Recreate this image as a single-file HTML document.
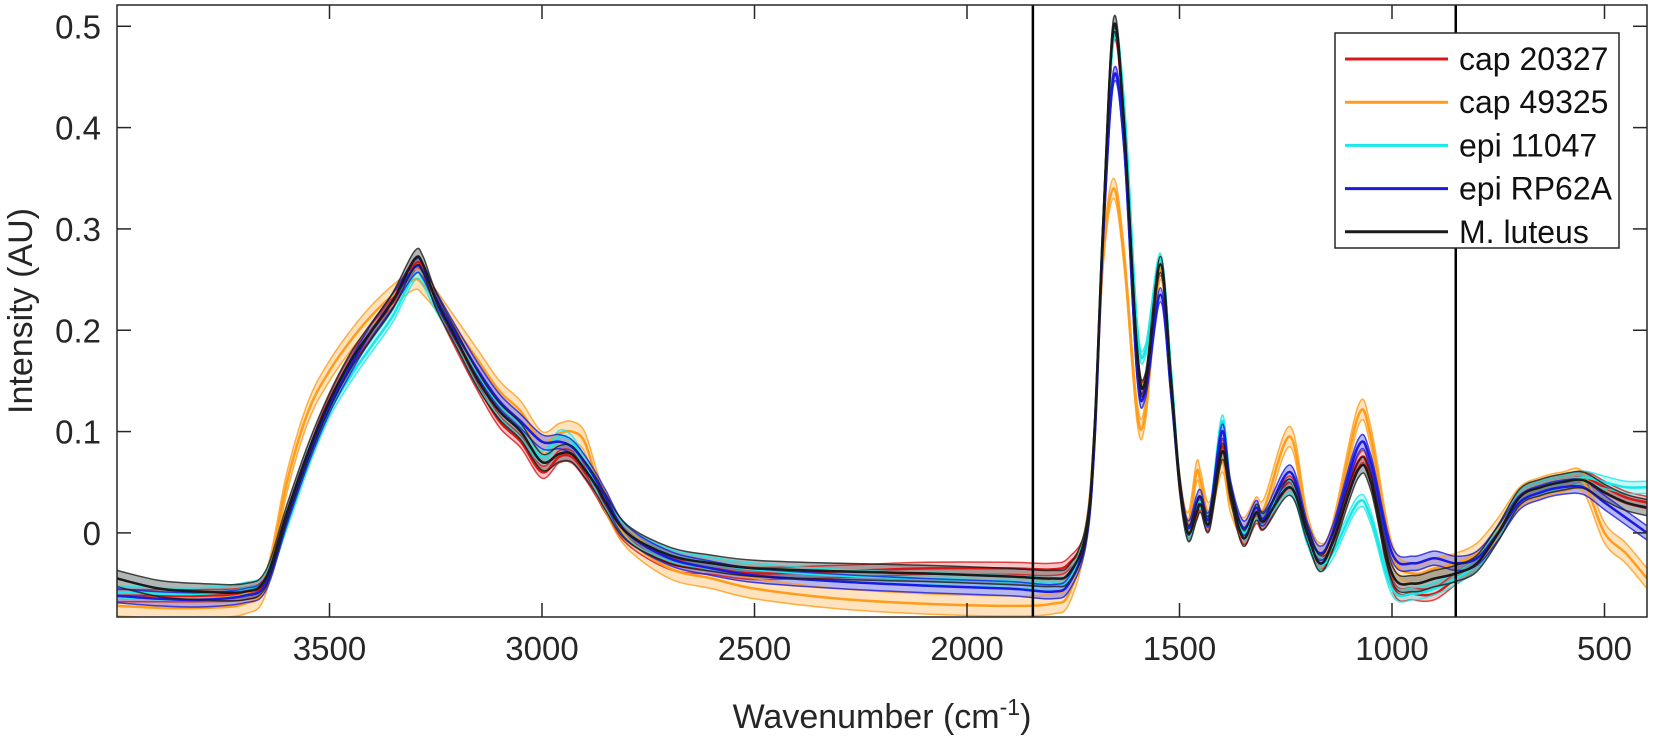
<!DOCTYPE html>
<html><head><meta charset="utf-8"><style>
html,body{margin:0;padding:0;background:#fff;}
svg{display:block;font-family:"Liberation Sans",Arial,sans-serif;}
</style></head><body>
<svg id="chart" width="1654" height="742" viewBox="0 0 1654 742" xmlns="http://www.w3.org/2000/svg">
<defs><clipPath id="plotclip"><rect x="117" y="5" width="1530" height="612"/></clipPath></defs>
<g id="bands" clip-path="url(#plotclip)"></g>
<g id="lines" clip-path="url(#plotclip)"></g>
<g id="vlines"></g>
<g id="axes"></g>
<text x="0" y="0" transform="translate(32,311) rotate(-90)" text-anchor="middle" font-size="34" fill="#262626">Intensity (AU)</text>
<text x="882" y="728" text-anchor="middle" font-size="34" fill="#262626">Wavenumber (cm<tspan dy="-13" font-size="23">-1</tspan><tspan dy="13">)</tspan></text>
<g id="legend"></g>
</svg>
<script>
const wavenumbers=[4000,3900,3800,3700,3650,3600,3550,3500,3450,3400,3350,3300,3280,3250,3200,3150,3100,3050,3000,2960,2930,2900,2870,2850,2800,2700,2600,2500,2300,2100,1900,1800,1760,1720,1700,1680,1655,1630,1600,1580,1545,1520,1500,1480,1460,1450,1430,1400,1380,1350,1320,1300,1240,1200,1170,1140,1080,1050,1000,950,900,850,800,750,700,650,600,550,500,450,400];
const luteus=[-0.045,-0.055,-0.058,-0.058,-0.045,0.02,0.08,0.13,0.17,0.2,0.23,0.27,0.265,0.23,0.19,0.15,0.12,0.1,0.07,0.078,0.078,0.063,0.045,0.03,0.0,-0.022,-0.03,-0.035,-0.038,-0.04,-0.043,-0.045,-0.04,0.0,0.1,0.3,0.5,0.4,0.18,0.15,0.265,0.15,0.05,0.0,0.02,0.028,0.01,0.08,0.04,-0.005,0.02,0.012,0.045,0.0,-0.03,-0.01,0.062,0.05,-0.04,-0.05,-0.045,-0.04,-0.03,0.0,0.035,0.045,0.05,0.052,0.04,0.03,0.025];
const cap20327=[-0.062,-0.062,-0.062,-0.06,-0.048,0.015,0.075,0.13,0.17,0.2,0.228,0.265,0.26,0.228,0.185,0.145,0.11,0.09,0.06,0.075,0.075,0.06,0.04,0.025,-0.005,-0.03,-0.035,-0.04,-0.038,-0.035,-0.035,-0.036,-0.03,0.0,0.1,0.3,0.49,0.4,0.18,0.15,0.26,0.15,0.05,0.0,0.02,0.028,0.01,0.085,0.04,-0.005,0.015,0.01,0.05,0.0,-0.03,-0.01,0.07,0.055,-0.05,-0.06,-0.06,-0.045,-0.03,0.0,0.035,0.045,0.05,0.055,0.045,0.035,0.03];
const cap49325=[-0.072,-0.074,-0.074,-0.07,-0.05,0.05,0.12,0.16,0.19,0.215,0.235,0.25,0.245,0.23,0.2,0.17,0.14,0.12,0.09,0.098,0.1,0.09,0.05,0.03,-0.005,-0.035,-0.045,-0.055,-0.065,-0.07,-0.072,-0.07,-0.06,0.0,0.1,0.27,0.34,0.27,0.12,0.12,0.26,0.15,0.05,0.01,0.06,0.05,0.02,0.07,0.03,0.005,0.025,0.025,0.095,0.01,-0.02,0.0,0.115,0.095,-0.02,-0.04,-0.035,-0.03,-0.02,0.005,0.035,0.045,0.05,0.05,0.0,-0.02,-0.045];
const epi11047=[-0.058,-0.06,-0.06,-0.055,-0.045,0.01,0.07,0.12,0.155,0.185,0.215,0.255,0.25,0.225,0.19,0.15,0.12,0.1,0.075,0.095,0.09,0.07,0.045,0.03,0.0,-0.022,-0.03,-0.036,-0.042,-0.045,-0.048,-0.05,-0.045,0.0,0.1,0.3,0.49,0.42,0.205,0.18,0.27,0.16,0.05,0.0,0.025,0.03,0.015,0.11,0.045,0.0,0.02,0.015,0.045,-0.005,-0.03,-0.02,0.03,0.015,-0.055,-0.06,-0.055,-0.045,-0.03,0.0,0.035,0.045,0.05,0.055,0.05,0.045,0.045];
const epiRP62A=[-0.062,-0.065,-0.066,-0.062,-0.05,0.015,0.075,0.125,0.165,0.2,0.23,0.262,0.258,0.232,0.195,0.16,0.13,0.11,0.09,0.09,0.085,0.07,0.05,0.035,0.0,-0.025,-0.035,-0.042,-0.048,-0.052,-0.055,-0.058,-0.05,-0.005,0.09,0.29,0.45,0.38,0.16,0.14,0.235,0.14,0.05,0.005,0.03,0.035,0.015,0.1,0.045,0.005,0.025,0.015,0.06,0.005,-0.02,0.0,0.085,0.07,-0.02,-0.03,-0.025,-0.03,-0.025,0.0,0.03,0.04,0.045,0.045,0.03,0.015,0.0];
const seriesNames=["cap 20327","cap 49325","epi 11047","epi RP62A","M. luteus"];
const seriesValues=[cap20327,cap49325,epi11047,epiRP62A,luteus];
const bandHalf=[0.006,0.01,0.006,0.007,0.008];
const xTicks=[3500,3000,2500,2000,1500,1000,500];
const yTicks=[0,0.1,0.2,0.3,0.4,0.5];
const markerLines=[1845,850];
const colors=["#d81818","#ff9c1a","#19e8e8","#1a1ae0","#1a1a1a"];
const fills=["#f08080","#ffc070","#80f0f0","#6060e0","#505a5a"];
const L=117,R=1647,T=5,B=617;
const xMin=4000,xMax=400,yMin=-0.083,yMax=0.521;
const sx=w=>L+(xMin-w)/(xMin-xMax)*(R-L);
const sy=v=>B-(v-yMin)/(yMax-yMin)*(B-T);
const NS="http://www.w3.org/2000/svg";
function mk(tag,attrs,parent){const e=document.createElementNS(NS,tag);for(const k in attrs)e.setAttribute(k,attrs[k]);parent.appendChild(e);return e;}
function pathD(pts){let d="M"+pts[0][0].toFixed(1)+","+pts[0][1].toFixed(1);
 for(let i=0;i<pts.length-1;i++){const p0=pts[i-1]||pts[i],p1=pts[i],p2=pts[i+1],p3=pts[i+2]||p2;
  const c1=[p1[0]+(p2[0]-p0[0])/6,p1[1]+(p2[1]-p0[1])/6],c2=[p2[0]-(p3[0]-p1[0])/6,p2[1]-(p3[1]-p1[1])/6];
  d+="C"+c1[0].toFixed(1)+","+c1[1].toFixed(1)+" "+c2[0].toFixed(1)+","+c2[1].toFixed(1)+" "+p2[0].toFixed(1)+","+p2[1].toFixed(1);}
 return d;}
const bands=document.getElementById('bands'),lines=document.getElementById('lines');
seriesValues.forEach((vals,si)=>{
 const up=wavenumbers.map((w,i)=>[sx(w),sy(vals[i]+bandHalf[si])]);
 const lo=wavenumbers.map((w,i)=>[sx(w),sy(vals[i]-bandHalf[si])]);
 const mid=wavenumbers.map((w,i)=>[sx(w),sy(vals[i])]);
 const dUp=pathD(up),dLo=pathD(lo.slice().reverse());
 const band=mk('path',{d:dUp+"L"+dLo.slice(1)+"Z",fill:fills[si],'fill-opacity':0.45,stroke:'none'},bands);
 
 
 [up,lo].forEach((pp,k)=>{const e=mk('path',{d:pathD(pp),fill:'none',stroke:colors[si],'stroke-width':1.5,'stroke-opacity':0.8},lines);
  
  });
 const m=mk('path',{d:pathD(mid),fill:'none',stroke:colors[si],'stroke-width':2.5},lines);
 
 
});
const vl=document.getElementById('vlines');
markerLines.forEach(w=>{const e=mk('line',{x1:sx(w),x2:sx(w),y1:T,y2:B,stroke:'#000','stroke-width':2.5},vl);
 
 });
const ax=document.getElementById('axes');
const fr=mk('rect',{x:L,y:T,width:R-L,height:B-T,fill:'none',stroke:'#262626','stroke-width':1.5},ax);


xTicks.forEach(w=>{const x=sx(w);
 mk('line',{x1:x,x2:x,y1:B,y2:B-14,stroke:'#262626','stroke-width':1.5},ax);
 mk('line',{x1:x,x2:x,y1:T,y2:T+14,stroke:'#262626','stroke-width':1.5},ax);
 const t=mk('text',{x:x,y:660,'text-anchor':'middle','font-size':33,fill:'#262626'},ax);t.textContent=w;
 
 });
yTicks.forEach(v=>{const y=sy(v);
 mk('line',{x1:L,x2:L+14,y1:y,y2:y,stroke:'#262626','stroke-width':1.5},ax);
 mk('line',{x1:R,x2:R-14,y1:y,y2:y,stroke:'#262626','stroke-width':1.5},ax);
 const t=mk('text',{x:101,y:y+12,'text-anchor':'end','font-size':33,fill:'#262626'},ax);t.textContent=v===0?"0":v.toFixed(1);
 
 });
const lg=document.getElementById('legend');
const box=mk('rect',{x:1335,y:33,width:284,height:215,fill:'#fff',stroke:'#262626','stroke-width':1.5},lg);


seriesNames.forEach((n,i)=>{const y=59+i*43.2;
 const ln=mk('line',{x1:1345,x2:1448,y1:y,y2:y,stroke:colors[i],'stroke-width':3},lg);
 
 
 const t=mk('text',{x:1459,y:y+11,'font-size':32,fill:'#111'},lg);t.textContent=n;
 
 });
</script>
</body></html>
